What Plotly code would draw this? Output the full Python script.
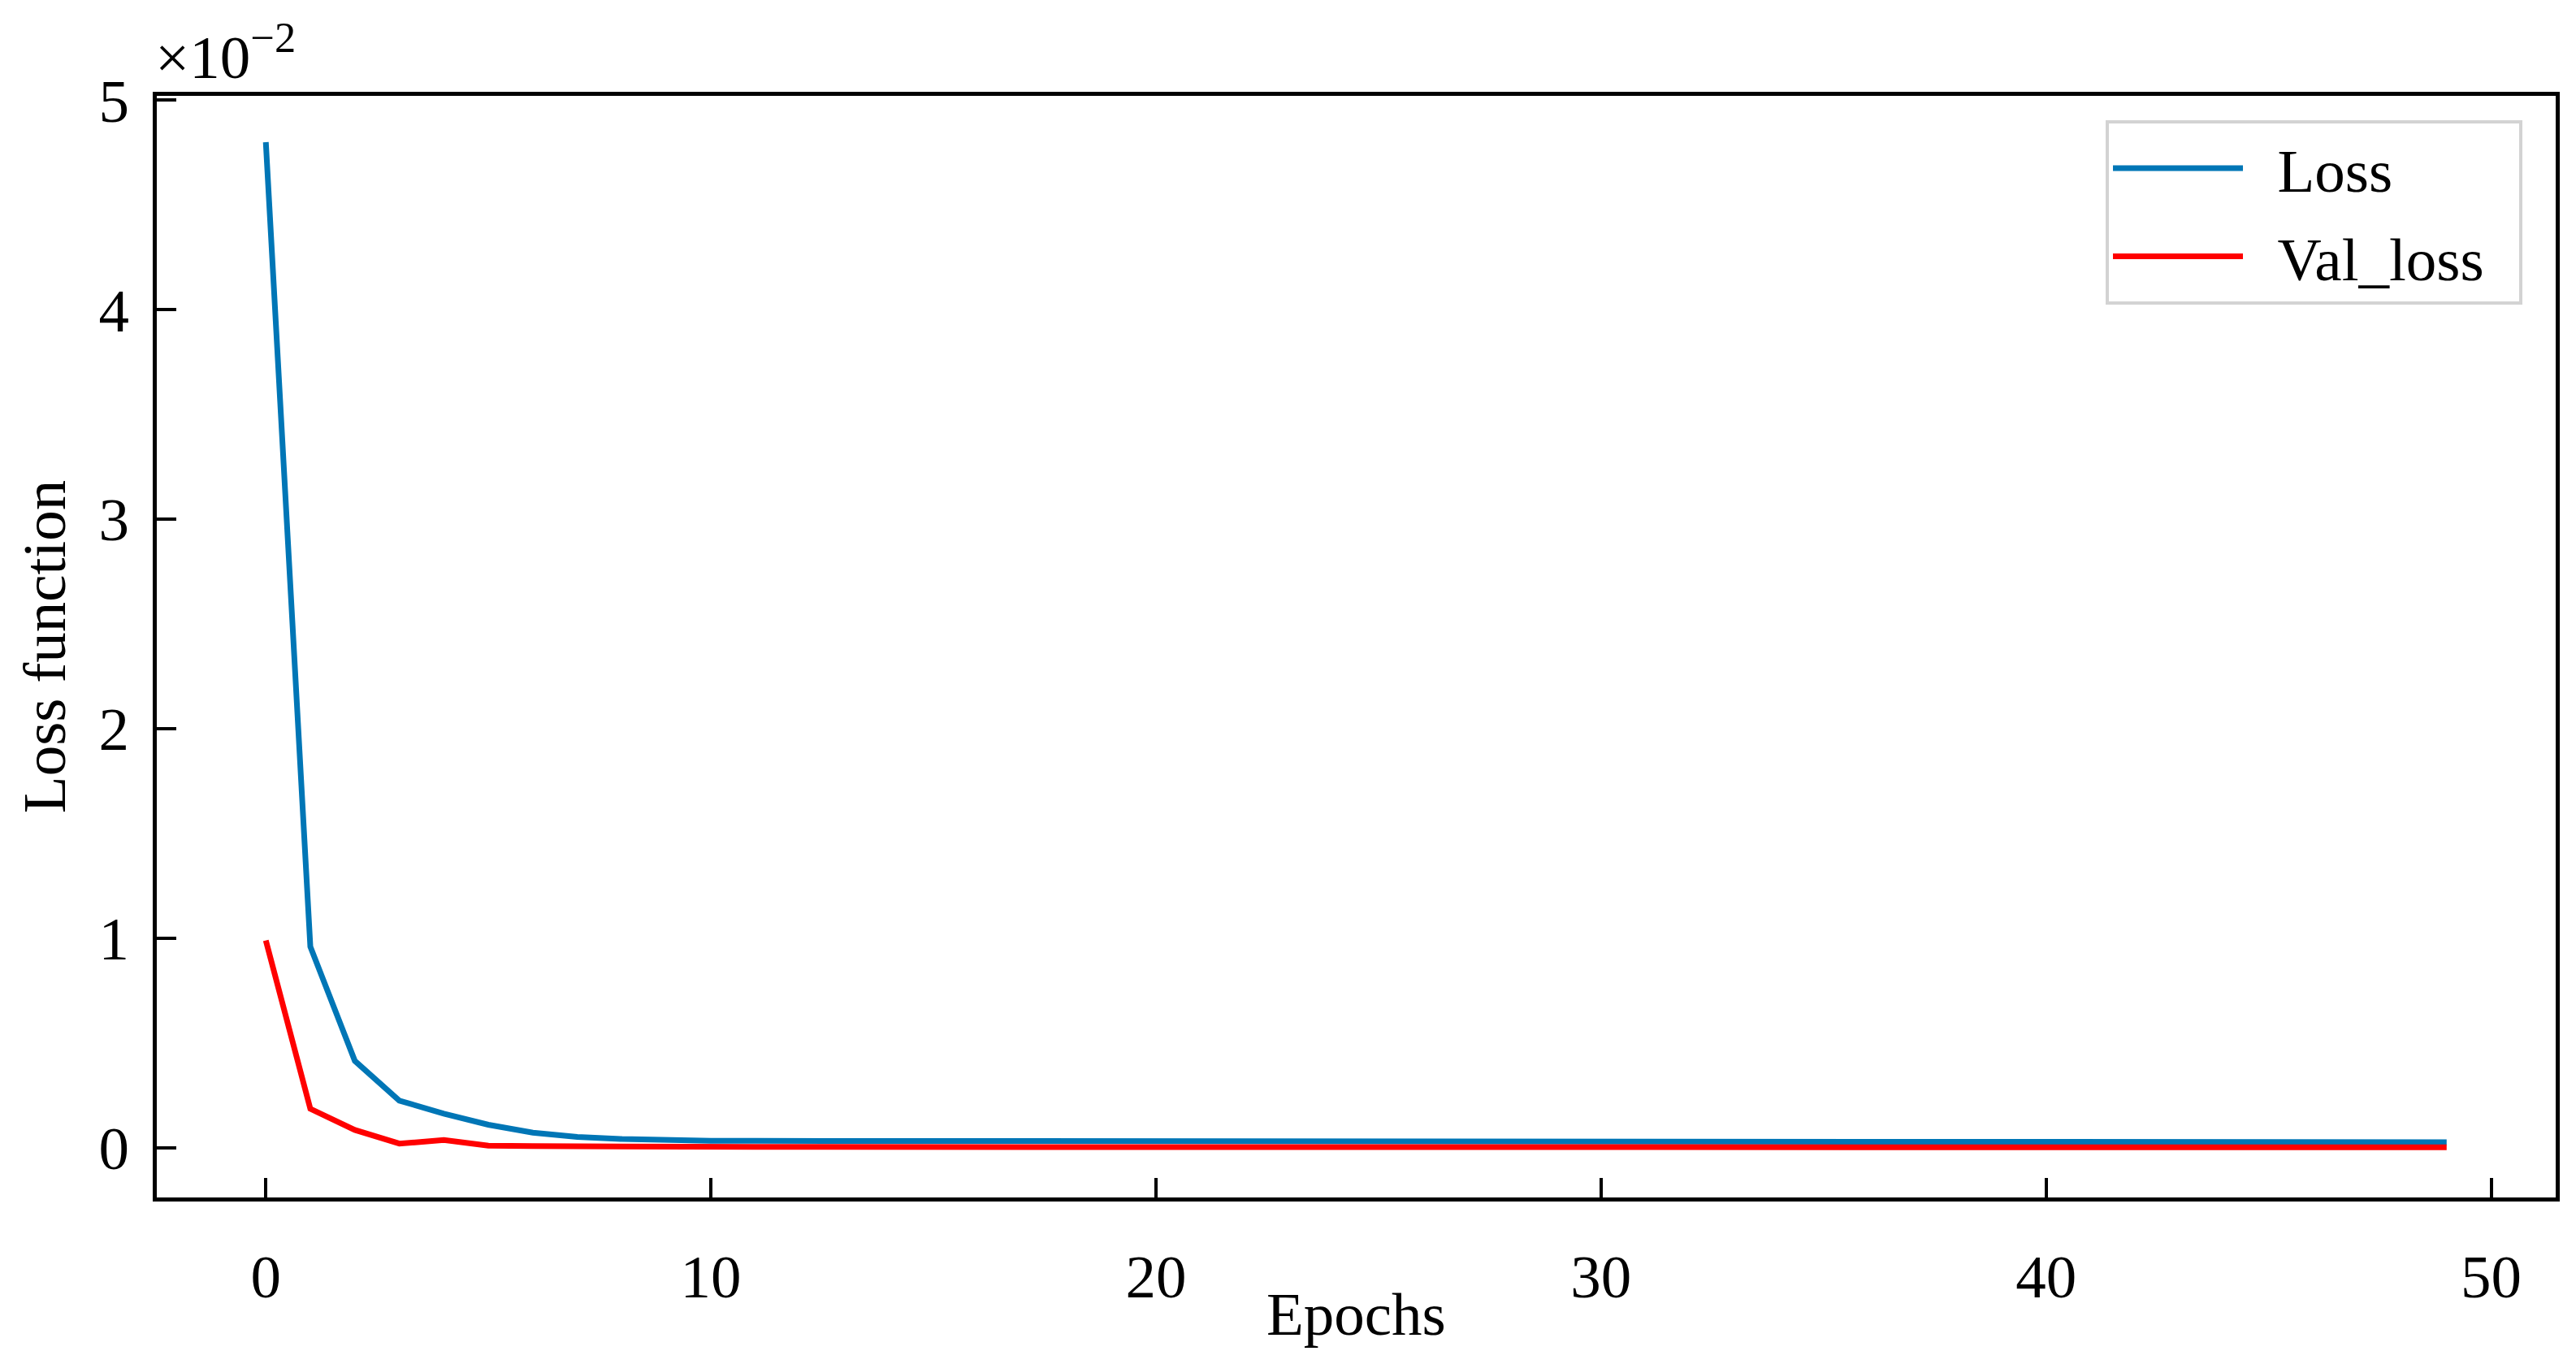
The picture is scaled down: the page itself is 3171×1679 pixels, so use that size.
import plotly.graph_objects as go

# training history (values in absolute units, axis shows x1e-2)
epochs = list(range(50))
loss = [0.04800, 0.00960, 0.00415, 0.00225, 0.00163, 0.00110, 0.00072, 0.00052, 0.00042, 0.00036,
        0.00033, 0.00033, 0.00033, 0.00032, 0.00032, 0.00032, 0.00032, 0.00031, 0.00031, 0.00031,
        0.00031, 0.00031, 0.00030, 0.00030, 0.00030, 0.00030, 0.00030, 0.00030, 0.00029, 0.00029,
        0.00029, 0.00029, 0.00029, 0.00029, 0.00028, 0.00028, 0.00028, 0.00028, 0.00028, 0.00028,
        0.00028, 0.00028, 0.00027, 0.00027, 0.00027, 0.00027, 0.00027, 0.00027, 0.00027, 0.00027]
val_loss = [0.00990, 0.00186, 0.00085, 0.00020, 0.00037, 0.00010, 0.00008, 0.00006, 0.00005, 0.00005,
            0.00005, 0.00004, 0.00004, 0.00004, 0.00004, 0.00004, 0.00004, 0.00004, 0.00004, 0.00004,
            0.00004, 0.00003, 0.00003, 0.00003, 0.00003, 0.00003, 0.00003, 0.00003, 0.00003, 0.00003,
            0.00003, 0.00003, 0.00003, 0.00003, 0.00003, 0.00003, 0.00002, 0.00002, 0.00002, 0.00002,
            0.00002, 0.00002, 0.00002, 0.00002, 0.00002, 0.00002, 0.00002, 0.00002, 0.00002, 0.00002]

x_ticks = [0, 10, 20, 30, 40, 50]
y_ticks = [0, 0.01, 0.02, 0.03, 0.04, 0.05]
y_ticktext = ["0", "1", "2", "3", "4", "5"]

FONT = "Liberation Serif"
FS = 75
SP = "\u00a0\u00a0"  # padding around legend labels

fig = go.Figure()
fig.add_trace(go.Scatter(x=epochs, y=loss, mode="lines", name=SP + "Loss" + SP, legendgroup="a",
                         line=dict(color="#0076B6", width=7)))
fig.add_trace(go.Scatter(x=epochs, y=val_loss, mode="lines", name=SP + "Val_loss" + SP, legendgroup="b",
                         line=dict(color="#FF0000", width=7)))

axis_common = dict(
    showline=True, linecolor="black", linewidth=5, mirror=True,
    ticks="inside", ticklen=24, tickwidth=4, tickcolor="black",
    showgrid=False, zeroline=False,
    tickfont=dict(family=FONT, size=FS, color="black"),
)
fig.update_xaxes(range=[-2.45, 51.45], tickvals=x_ticks, ticklabelstandoff=28, **axis_common)
fig.update_yaxes(range=[-0.00237, 0.05021], tickvals=y_ticks, ticktext=y_ticktext, ticklabelstandoff=14,
                 title=dict(text="Loss function", font=dict(family=FONT, size=FS, color="black"), standoff=18),
                 **axis_common)

# x title placed close under tick labels, like the original
fig.add_annotation(text="Epochs", xref="paper", yref="paper", x=0.5, y=-0.106,
                   xanchor="center", yanchor="middle", showarrow=False,
                   font=dict(family=FONT, size=FS, color="black"))

# matplotlib-style offset text
fig.add_annotation(text="×10<sup>−2</sup>", xref="paper", yref="paper", x=0, y=1,
                   xanchor="left", yanchor="bottom", showarrow=False, yshift=4, xshift=-4,
                   font=dict(family=FONT, size=FS, color="black"))

fig.update_layout(
    width=3171, height=1679,
    margin=dict(l=185, r=33, t=110, b=213),
    plot_bgcolor="white", paper_bgcolor="white",
    font=dict(family=FONT, size=FS, color="black"),
    legend=dict(x=0.8124, y=0.978, xanchor="left", yanchor="top",
                bgcolor="white", bordercolor="#D3D3D3", borderwidth=4,
                itemwidth=160, tracegroupgap=8, traceorder="grouped",
                font=dict(family=FONT, size=FS, color="black")),
)

fig.write_html("out.html")
